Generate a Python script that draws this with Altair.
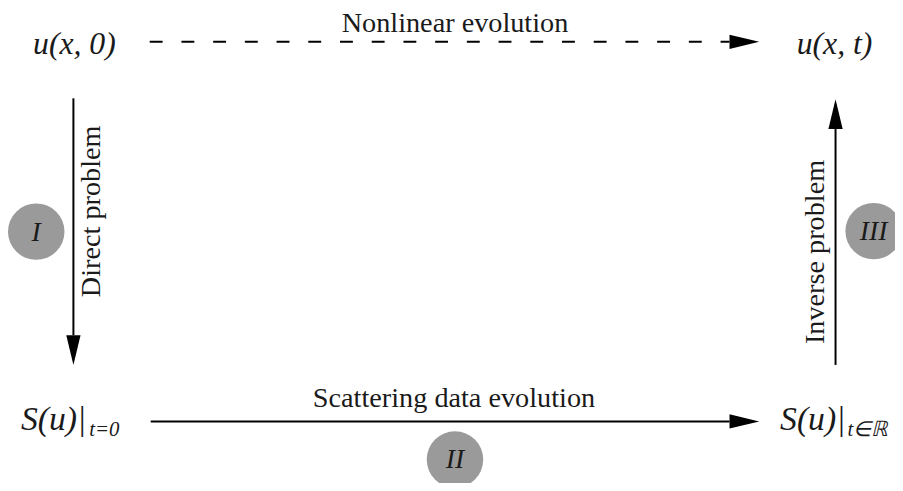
import altair as alt
import pandas as pd

# ---- diagram content (positions in reference pixel units) ----
# math node labels, centred
node_labels = ["u(x, 0)", "u(x, t)"]
node_x = [75, 842]
node_y = [52, 52]

# scattering data labels (main part + subscript)
sd_main = ["S(u)|", "S(u)|"]
sd_main_x = [21, 787]
sd_main_y = [432, 432]
sd_sub = ["t=0", "t∈ℝ"]
sd_sub_x = [90, 855]
sd_sub_y = [438, 438]

# arrow captions
cap_labels = ["Nonlinear evolution", "Scattering data evolution"]
cap_x = [459, 458]
cap_y = [30, 408]

rot_labels = ["Direct problem", "Inverse problem"]
rot_x = [92, 822]
rot_y = [211, 252]

# step markers
step_labels = ["I", "II", "III"]
step_x = [36.5, 459, 881.5]
step_y = [231.5, 461.5, 231]

# arrow shafts
shaft_x = [152, 74, 843]
shaft_x2 = [736, 74, 843]
shaft_y = [423, 97, 128]
shaft_y2 = [423, 336, 366]
dash_x, dash_x2, dash_y = [151], [736], [40]

# arrow heads (centre, direction angle)
head_x = [751, 751, 74, 843]
head_y = [40, 423, 351, 113]
head_angle = [0, 0, 90, 270]

W, H = 895, 475
xsc = alt.Scale(domain=[8, 8 + W], nice=False, zero=False)
ysc = alt.Scale(domain=[8 + H, 8], nice=False, zero=False)
FONT = "Liberation Serif"


def X(f="x"):
    return alt.X(f"{f}:Q", scale=xsc, axis=None)


def Y(f="y"):
    return alt.Y(f"{f}:Q", scale=ysc, axis=None)


shafts = alt.Chart(pd.DataFrame({"x": shaft_x, "x2": shaft_x2, "y": shaft_y, "y2": shaft_y2})).mark_rule(
    color="black", strokeWidth=2
).encode(x=X(), x2="x2:Q", y=Y(), y2="y2:Q")

dashed = alt.Chart(pd.DataFrame({"x": dash_x, "x2": dash_x2, "y": dash_y})).mark_rule(
    color="black", strokeWidth=2, strokeDash=[13, 19]
).encode(x=X(), x2="x2:Q", y=Y())

heads = alt.Chart(pd.DataFrame({"x": head_x, "y": head_y, "a": head_angle})).mark_point(
    shape="M-1,-0.48L1,0L-1,0.48Z", filled=True, color="black", opacity=1, size=900, strokeWidth=0
).encode(x=X(), y=Y(), angle=alt.Angle("a:Q", scale=None))

circles = alt.Chart(pd.DataFrame({"x": step_x, "y": step_y})).mark_circle(
    color="#9a9a9a", opacity=1, size=3249
).encode(x=X(), y=Y())

steps = alt.Chart(pd.DataFrame({"x": step_x, "y": step_y, "t": step_labels})).mark_text(
    font=FONT, fontSize=28, fontStyle="italic", color="#1a1a1a", align="center", baseline="middle", dy=1
).encode(x=X(), y=Y(), text="t:N")

nodes = alt.Chart(pd.DataFrame({"x": node_x, "y": node_y, "t": node_labels})).mark_text(
    font=FONT, fontSize=32, fontStyle="italic", color="#1a1a1a", align="center", baseline="alphabetic"
).encode(x=X(), y=Y(), text="t:N")

sdm = alt.Chart(pd.DataFrame({"x": sd_main_x, "y": sd_main_y, "t": sd_main})).mark_text(
    font=FONT, fontSize=34, fontStyle="italic", color="#1a1a1a", align="left", baseline="alphabetic"
).encode(x=X(), y=Y(), text="t:N")

sds = alt.Chart(pd.DataFrame({"x": sd_sub_x, "y": sd_sub_y, "t": sd_sub})).mark_text(
    font=FONT, fontSize=21, fontStyle="italic", color="#1a1a1a", align="left", baseline="alphabetic"
).encode(x=X(), y=Y(), text="t:N")

caps = alt.Chart(pd.DataFrame({"x": cap_x, "y": cap_y, "t": cap_labels})).mark_text(
    font=FONT, fontSize=28.5, color="#1a1a1a", align="center", baseline="alphabetic"
).encode(x=X(), y=Y(), text="t:N")

rots = alt.Chart(pd.DataFrame({"x": rot_x, "y": rot_y, "t": rot_labels})).mark_text(
    font=FONT, fontSize=28.5, color="#1a1a1a", align="center", baseline="middle", angle=270
).encode(x=X(), y=Y(), text="t:N")

chart = alt.layer(shafts, dashed, heads, circles, steps, nodes, sdm, sds, caps, rots).properties(
    width=W, height=H, padding=0, autosize=alt.AutoSizeParams(type="none")
).configure_view(stroke=None)

chart.save("out.html", embed_options={"renderer": "svg", "actions": False})
